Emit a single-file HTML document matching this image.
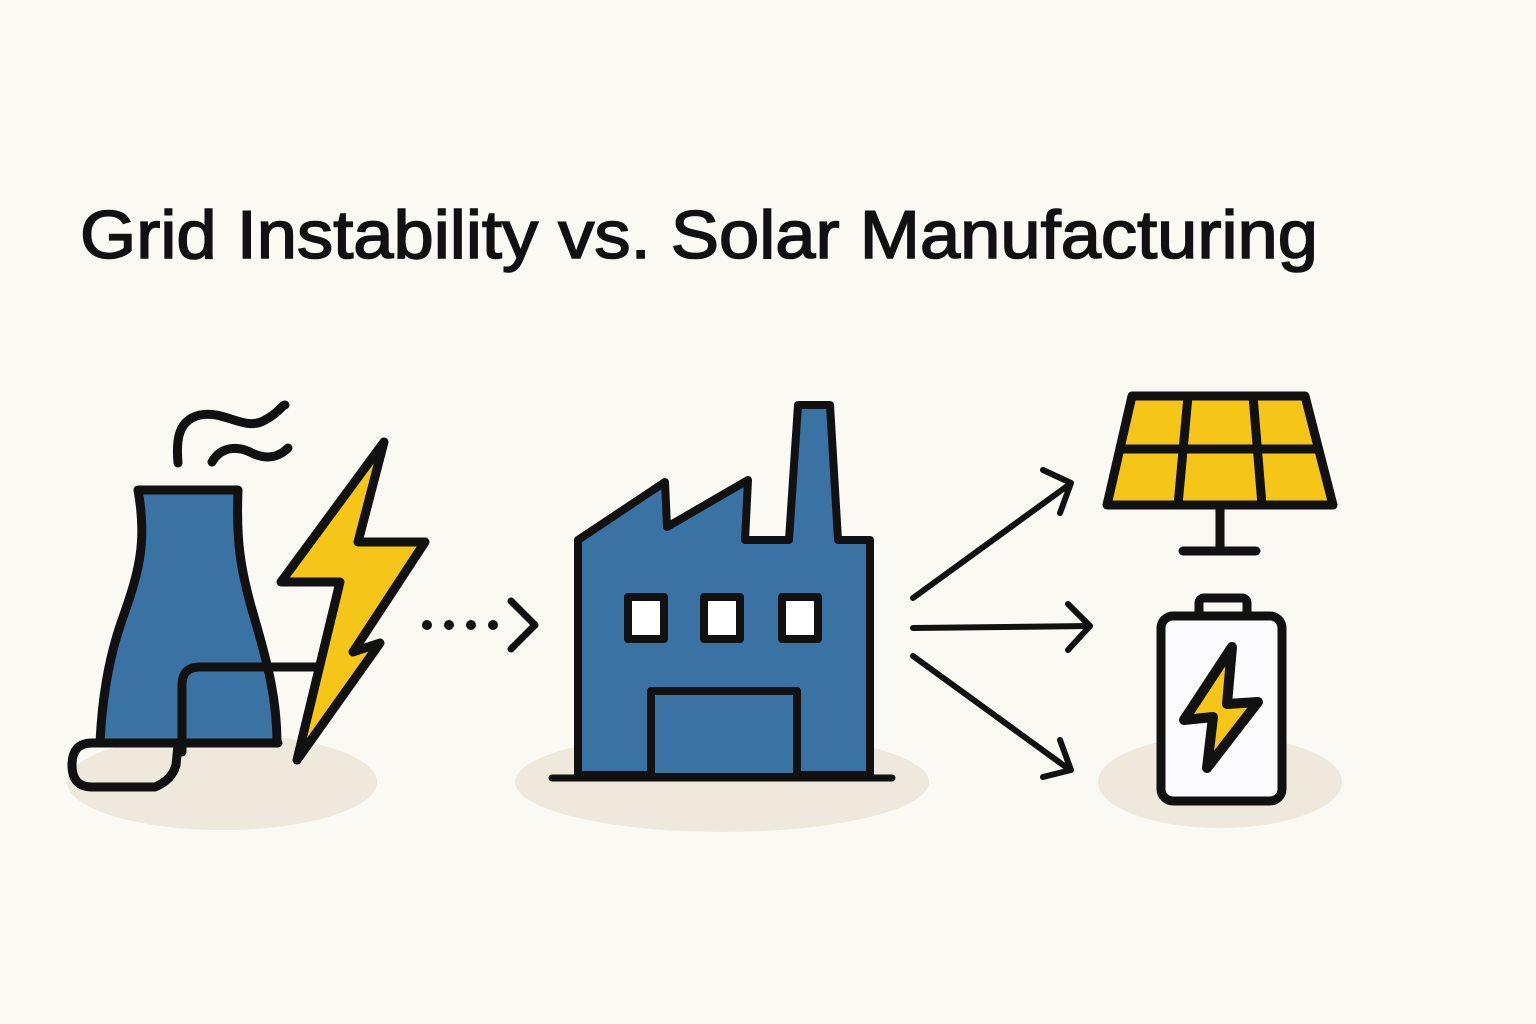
<!DOCTYPE html>
<html><head><meta charset="utf-8"><style>
html,body{margin:0;padding:0;background:#faf9f4;}
svg{display:block}
</style></head><body>
<svg width="1536" height="1024" viewBox="0 0 1536 1024" xmlns="http://www.w3.org/2000/svg">
<rect width="1536" height="1024" fill="#faf9f4"/>
<text x="80" y="258" font-family="Liberation Sans, sans-serif" font-size="68" fill="#111" stroke="#111" stroke-width="1.6" textLength="1238" lengthAdjust="spacingAndGlyphs">Grid Instability vs. Solar Manufacturing</text>

<ellipse cx="222" cy="782" rx="155" ry="48" fill="#efe9dd"/>
<ellipse cx="722" cy="782" rx="207" ry="50" fill="#efe9dd"/>
<ellipse cx="1220" cy="782" rx="122" ry="46" fill="#efe9dd"/>

<g stroke="#111" stroke-width="9" stroke-linejoin="round" stroke-linecap="round">
<path d="M178,463 C176,440 178,420 200,415 C225,410 245,432 265,420 C280,412 282,405 285,405" fill="none"/>
<path d="M212,462 C220,448 235,445 250,452 C265,460 278,458 288,448" fill="none"/>
<path d="M138,490 L238,490 C236,540 240,570 255,620 C268,665 277,700 277,743 L100,743 C102,700 108,660 122,620 C140,570 147,540 138,490 Z" fill="#3a72a3"/>
<path d="M322,667 L200,667 Q182,667 182,685 L182,752" fill="none"/>
<path d="M278,743 L92,743 Q72,743 72,765 Q72,787 92,787 L155,787 Q172,780 176,765 L178,745" fill="none"/>
<path d="M384,442 L281,582 L340,582 L297,760 L380,643 L353,652 L425,542 L358,542 Z" fill="#f5c518"/>
</g>
<g fill="#111"><circle cx="427" cy="625" r="5"/><circle cx="449" cy="625" r="5"/><circle cx="471" cy="625" r="5"/><circle cx="493" cy="625" r="5"/></g>
<path d="M511,601 L535,625 L511,649" fill="none" stroke="#111" stroke-width="7" stroke-linecap="round" stroke-linejoin="round"/>

<g stroke="#111" stroke-width="8" stroke-linejoin="round">
<path d="M578,775 L578,540 L665,482 L667,527 L748,480 L745,540 L789,540 L798,405 L830,405 L838,540 L870,540 L870,775 Z" fill="#3a72a3"/>
<rect x="628" y="597" width="36" height="42" fill="#fff"/>
<rect x="704" y="597" width="36" height="42" fill="#fff"/>
<rect x="782" y="597" width="36" height="42" fill="#fff"/>
<rect x="651" y="691" width="146" height="86" fill="#3a72a3"/>
</g>
<line x1="552" y1="778" x2="892" y2="778" stroke="#111" stroke-width="7" stroke-linecap="round"/>

<g stroke="#111" stroke-width="6" stroke-linecap="round" stroke-linejoin="round" fill="none">
<line x1="913" y1="598" x2="1070" y2="484"/>
<path d="M1043,470 L1071,483 L1060,513"/>
<line x1="913" y1="628" x2="1090" y2="626"/>
<path d="M1068,604 L1090,626 L1068,650"/>
<line x1="913" y1="656" x2="1070" y2="770"/>
<path d="M1060,740 L1071,770 L1043,777"/>
</g>

<g stroke="#111" stroke-width="9" stroke-linejoin="round" stroke-linecap="round">
<path d="M1132,396 L1305,396 L1333,505 L1107,505 Z" fill="#f5c518"/>
<line x1="1120" y1="449" x2="1318" y2="449"/>
<line x1="1188" y1="396" x2="1178" y2="505"/>
<line x1="1253" y1="396" x2="1262" y2="505"/>
<line x1="1220" y1="505" x2="1220" y2="550"/>
<line x1="1183" y1="551" x2="1256" y2="551"/>
</g>
<g stroke="#111" stroke-width="9" stroke-linejoin="round">
<rect x="1199" y="598" width="48" height="20" rx="5" fill="#faf9f4"/>
<rect x="1161" y="616" width="121" height="185" rx="12" fill="#fbfbfd"/>
<path d="M1232,647 L1184,720 L1213,717 L1207,768 L1258,702 L1227,704 Z" fill="#f5c518" stroke-width="10"/>
</g>
</svg>
</body></html>
